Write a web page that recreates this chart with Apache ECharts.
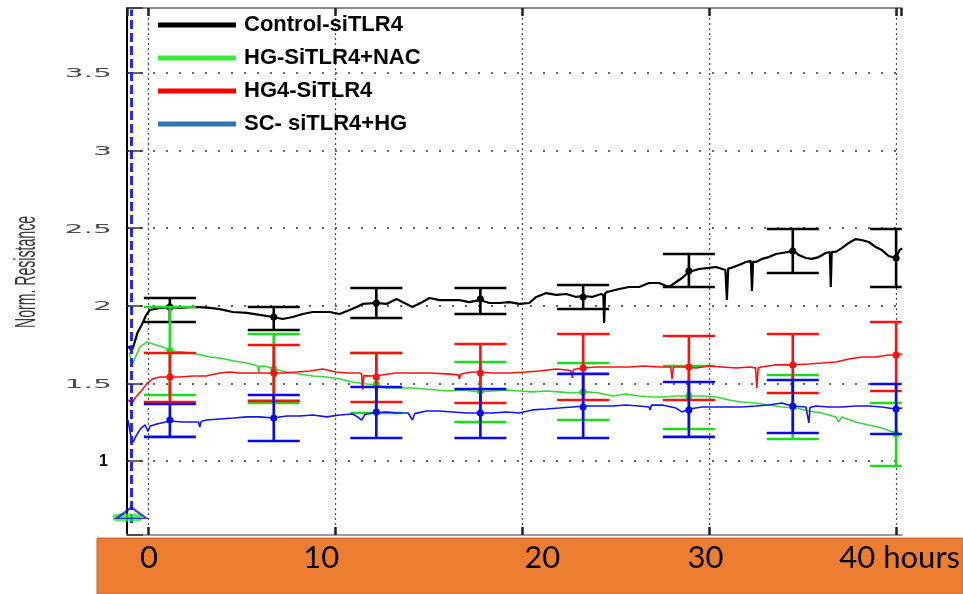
<!DOCTYPE html>
<html>
<head>
<meta charset="utf-8">
<script src="https://cdn.jsdelivr.net/npm/echarts@6/dist/echarts.min.js"></script>
<style>
  html, body { margin: 0; padding: 0; background: #ffffff; }
  #chart { width: 963px; height: 594px; }
</style>
</head>
<body>
<div id="chart"></div>
<script>
// ---- Normalised resistance traces, [hours, value] ----
const controlTrace = [
  [-1.05,1.74],[-0.9,1.715],[-0.8,1.73],[-0.55,1.83],[-0.32,1.88],[-0.1,1.94],[0.1,1.973],[0.64,1.986],
  [1.17,1.992],[1.71,1.986],[2.24,1.992],[2.77,1.992],[3.31,1.986],[3.84,1.979],[4.53,1.96],[5.28,1.954],
  [5.97,1.941],[6.67,1.928],[7.2,1.915],[7.73,1.928],[8.27,1.947],[8.8,1.96],[9.33,1.96],[9.71,1.96],
  [10.24,1.947],[10.77,1.973],[11.15,1.992],[11.47,2.012],[12.21,2.018],[12.75,2.012],[13.28,2.044],[13.81,2.012],
  [14.13,1.992],[14.67,2.024],[15.04,2.05],[15.57,2.037],[16.11,2.037],[16.64,2.037],[17.17,2.024],[17.71,2.037],
  [18.24,2.018],[18.77,2.018],[19.31,2.024],[19.84,2.012],[20.37,2.018],[20.75,2.057],[21.28,2.082],[21.81,2.07],
  [22.35,2.076],[22.88,2.057],[23.25,2.063],[23.73,2.057],[24.21,2.076],[24.33,2.07],[24.37,1.889],[24.42,2.08],
  [24.53,2.089],[25.17,2.108],[25.71,2.121],[26.24,2.121],[26.77,2.147],[27.3,2.147],[27.84,2.121],[28.53,2.179],
  [28.9,2.218],[29.44,2.237],[29.97,2.244],[30.35,2.25],[30.85,2.231],[30.93,2.037],[31.0,2.24],[31.15,2.244],
  [31.57,2.263],[31.95,2.282],[32.21,2.289],[32.27,2.095],[32.33,2.285],[32.48,2.282],[32.8,2.302],[33.17,2.314],
  [33.55,2.334],[33.87,2.34],[34.24,2.347],[34.45,2.36],[34.77,2.327],[35.15,2.308],[35.47,2.302],[35.84,2.314],
  [36.21,2.34],[36.43,2.347],[36.48,2.121],[36.53,2.347],[36.75,2.347],[37.07,2.372],[37.44,2.405],[37.81,2.43],
  [38.13,2.424],[38.51,2.411],[38.88,2.379],[39.2,2.36],[39.57,2.321],[39.95,2.308],[40.16,2.36],[40.3,2.37]
];
const nacTrace = [
  [-1.0,1.70],[-0.85,1.62],[-0.7,1.66],[-0.43,1.735],[-0.05,1.767],[0.27,1.754],[0.8,1.735],[1.17,1.709],
  [1.87,1.702],[2.61,1.689],[3.3,1.67],[3.84,1.664],[4.6,1.644],[5.3,1.631],[5.87,1.612],[5.92,1.567],
  [5.97,1.61],[6.24,1.612],[6.72,1.593],[7.41,1.573],[8.11,1.561],[8.8,1.548],[9.55,1.541],[10.24,1.528],
  [10.93,1.509],[11.68,1.496],[12.21,1.49],[12.75,1.47],[13.39,1.47],[14.08,1.47],[14.77,1.464],[15.41,1.457],
  [16.05,1.451],[16.8,1.457],[17.71,1.445],[18.4,1.451],[19.15,1.457],[19.84,1.451],[20.53,1.445],[21.28,1.451],
  [21.97,1.445],[22.67,1.438],[23.41,1.445],[24.11,1.438],[24.8,1.419],[25.55,1.432],[26.24,1.419],[26.93,1.412],
  [27.47,1.412],[28.21,1.419],[28.9,1.419],[29.6,1.419],[30.35,1.412],[31.04,1.393],[31.73,1.38],[32.48,1.374],
  [33.17,1.361],[33.87,1.348],[34.61,1.341],[35.31,1.322],[36.0,1.309],[36.75,1.284],[36.9,1.251],[37.07,1.284],
  [37.81,1.251],[38.51,1.232],[39.2,1.213],[39.95,1.18],[40.3,1.168]
];
const hg4Trace = [
  [-1.07,1.393],[-0.85,1.374],[-0.69,1.406],[-0.32,1.457],[-0.05,1.50],[0.27,1.53],[0.64,1.541],[1.17,1.541],
  [1.7,1.541],[2.4,1.548],[3.1,1.548],[3.84,1.567],[4.37,1.573],[4.9,1.567],[5.6,1.567],[6.3,1.567],
  [6.7,1.565],[6.77,1.535],[6.84,1.567],[7.25,1.567],[7.95,1.573],[8.64,1.58],[9.33,1.593],[10.03,1.573],
  [10.72,1.567],[11.3,1.567],[11.41,1.561],[11.47,1.46],[11.53,1.55],[11.95,1.548],[12.48,1.554],[13.23,1.567],
  [14.13,1.567],[15.04,1.567],[15.95,1.561],[16.58,1.555],[16.64,1.528],[16.7,1.56],[17.33,1.573],[17.71,1.573],
  [18.4,1.567],[19.31,1.567],[20.21,1.573],[20.91,1.58],[21.81,1.593],[22.4,1.586],[22.6,1.58],[22.67,1.535],
  [22.74,1.59],[23.2,1.599],[24.0,1.606],[24.8,1.606],[25.71,1.606],[26.5,1.612],[27.31,1.606],[27.93,1.606],
  [28.0,1.528],[28.07,1.606],[28.53,1.606],[29.28,1.599],[29.97,1.612],[30.67,1.606],[31.41,1.599],[32.11,1.606],
  [32.46,1.60],[32.53,1.47],[32.6,1.60],[32.75,1.606],[33.49,1.619],[34.35,1.619],[35.31,1.625],[36.0,1.631],
  [36.75,1.638],[37.44,1.657],[38.13,1.67],[38.88,1.67],[39.57,1.683],[39.95,1.683],[40.3,1.689]
];
const scTrace = [
  [-1.07,1.264],[-0.93,1.17],[-0.8,1.122],[-0.6,1.17],[-0.38,1.21],[-0.15,1.232],[0.0,1.19],[0.12,1.225],
  [0.48,1.238],[1.17,1.258],[1.87,1.251],[2.7,1.251],[2.77,1.219],[2.84,1.255],[3.12,1.264],[3.84,1.271],
  [4.56,1.277],[5.3,1.284],[5.97,1.284],[6.67,1.277],[7.41,1.29],[8.11,1.29],[8.8,1.296],[9.55,1.284],
  [10.24,1.296],[10.93,1.303],[11.2,1.284],[11.41,1.264],[11.6,1.30],[12.0,1.309],[12.75,1.316],[13.28,1.309],
  [13.9,1.309],[14.13,1.264],[14.25,1.305],[14.88,1.322],[15.57,1.322],[16.27,1.316],[17.01,1.309],[17.71,1.309],
  [18.4,1.309],[19.15,1.316],[19.84,1.309],[20.53,1.329],[21.28,1.335],[21.97,1.341],[22.67,1.348],[23.41,1.354],
  [24.11,1.354],[24.8,1.354],[25.55,1.361],[26.24,1.354],[26.77,1.348],[26.83,1.329],[26.9,1.36],[27.47,1.361],
  [28.21,1.341],[28.53,1.316],[28.9,1.335],[29.6,1.348],[30.35,1.348],[31.04,1.348],[31.73,1.348],[32.48,1.354],
  [33.17,1.361],[33.87,1.374],[34.4,1.354],[35.15,1.348],[35.25,1.348],[35.31,1.245],[35.37,1.345],[35.68,1.354],
  [36.37,1.348],[37.07,1.348],[37.81,1.354],[38.51,1.354],[39.2,1.348],[39.95,1.335],[40.3,1.341]
];

// ---- Error bars (mean ± SD) at the sampling times ----
const errHours    = [1.17, 6.72, 12.2, 17.76, 23.25, 28.9, 34.45, 39.97];
const controlLow  = [1.896, 1.844, 1.921, 1.947, 1.979, 2.121, 2.211, 2.121];
const controlMid  = [1.992, 1.928, 2.018, 2.044, 2.057, 2.224, 2.353, 2.308];
const controlHigh = [2.050, 1.992, 2.115, 2.115, 2.134, 2.334, 2.495, 2.495];
const nacLow      = [1.425, 1.374, 1.309, 1.251, 1.264, 1.206, 1.142, 0.968];
const nacMid      = [1.709, 1.593, 1.496, 1.451, 1.445, 1.419, 1.348, 1.174];
const nacHigh     = [1.992, 1.818, 1.696, 1.638, 1.631, 1.612, 1.554, 1.374];
const hg4Low      = [1.380, 1.387, 1.380, 1.374, 1.393, 1.393, 1.438, 1.451];
const hg4Mid      = [1.541, 1.567, 1.541, 1.567, 1.599, 1.606, 1.619, 1.683];
const hg4High     = [1.696, 1.747, 1.696, 1.754, 1.818, 1.805, 1.818, 1.896];
const scLow       = [1.155, 1.129, 1.148, 1.148, 1.148, 1.155, 1.180, 1.174];
const scMid       = [1.264, 1.277, 1.316, 1.309, 1.348, 1.329, 1.354, 1.335];
const scHigh      = [1.367, 1.425, 1.477, 1.464, 1.561, 1.509, 1.522, 1.496];

// ---- Treatment start marker ----
const startLine   = [[-0.88, 0.60], [-0.88, 3.91]];
const startBase   = [-1.1, 0.635];
const startArrow  = [-0.88, 0.665];

// ---- Axis ranges and labels ----
const hourRange = [-1.12, 40.27];
const resRange  = [0.523, 3.919];
const resistanceTicks = [1, 1.5, 2, 2.5, 3, 3.5];
const hourTicks  = [0, 10, 20, 30, 40];
const hourLabels = ['0', '10', '20', '30', '40 hours'];
const seriesNames = ['Control-siTLR4', 'HG-SiTLR4+NAC', 'HG4-SiTLR4', 'SC- siTLR4+HG'];

const C = {
  control: '#000000', nac: '#3ad83a', hg4: '#ff1010', sc: '#1414ee',
  nacBar: '#1adc1a', scBar: '#0a0ae8',
  legendNac: '#3ee83e', legendHg4: '#ff0000', legendSc: '#2e75b6'
};

function zipErr(low, mid, high) {
  return errHours.map((h, i) => [h, low[i], mid[i], high[i]]);
}

function errorBars(data, color, z) {
  return {
    type: 'custom',
    z: z,
    data: data,
    encode: { x: 0, y: [1, 2, 3] },
    renderItem: function (params, api) {
      const x = api.value(0);
      const top = api.coord([x, api.value(3)]);
      const bot = api.coord([x, api.value(1)]);
      const mid = api.coord([x, api.value(2)]);
      const hw = 26;
      const st = { stroke: color, lineWidth: 2.6 };
      const cs = params.coordSys;
      return {
        type: 'group',
        clipPath: { type: 'rect', shape: { x: cs.x, y: cs.y, width: cs.width, height: cs.height } },
        children: [
          { type: 'line', shape: { x1: top[0], y1: top[1], x2: bot[0], y2: bot[1] }, style: st },
          { type: 'line', shape: { x1: top[0] - hw, y1: top[1], x2: top[0] + hw, y2: top[1] }, style: st },
          { type: 'line', shape: { x1: bot[0] - hw, y1: bot[1], x2: bot[0] + hw, y2: bot[1] }, style: st },
          { type: 'circle', shape: { cx: mid[0], cy: mid[1], r: 3.5 }, style: { fill: color } }
        ]
      };
    }
  };
}

function trace(name, data, color, width, z) {
  return {
    type: 'line', name: name, data: data, z: z,
    symbol: 'none', smooth: false, clip: true,
    lineStyle: { color: color, width: width },
    itemStyle: { color: color }
  };
}

const labelShift = { 0: 1, 10: -14, 20: 20, 30: -4, 40: 3 };
const rich = {};
hourTicks.forEach(t => {
  const s = labelShift[t];
  rich['h' + t] = {
    fontFamily: 'Lato', fontSize: 31, color: '#000', lineHeight: 32,
    padding: s >= 0 ? [0, 0, 0, 2 * s] : [0, -2 * s, 0, 0]
  };
});

const chart = echarts.init(document.getElementById('chart'), null, { renderer: 'canvas' });

chart.setOption({
  animation: false,
  backgroundColor: '#ffffff',
  grid: { left: 127, right: 60, top: 8, bottom: 59, containLabel: false },
  legend: {
    orient: 'vertical', left: 153, top: 9,
    itemWidth: 78, itemHeight: 5, itemGap: 11, icon: 'rect',
    selectedMode: false,
    textStyle: { fontFamily: 'Liberation Sans', fontWeight: 'bold', fontSize: 22, lineHeight: 22, color: '#000', padding: [0, 0, 0, 3] },
    data: [
      { name: seriesNames[0], itemStyle: { color: C.control } },
      { name: seriesNames[1], itemStyle: { color: C.legendNac } },
      { name: seriesNames[2], itemStyle: { color: C.legendHg4 } },
      { name: seriesNames[3], itemStyle: { color: C.legendSc } }
    ]
  },
  xAxis: [{
    type: 'value', min: hourRange[0], max: hourRange[1], splitNumber: 5,
    axisLine: { show: true, onZero: false, lineStyle: { color: '#9c9c9c', width: 2 } },
    axisTick: { show: true, inside: true, length: 8, lineStyle: { color: '#222', width: 2.5 } },
    axisLabel: {
      show: true, margin: 7, showMinLabel: false, showMaxLabel: false,
      formatter: function (v) {
        const i = hourTicks.indexOf(Math.round(v * 1000) / 1000);
        return i < 0 ? '' : '{h' + hourTicks[i] + '|' + hourLabels[i] + '}';
      },
      rich: rich
    },
    splitLine: { show: true, showMinLine: false, showMaxLine: false, lineStyle: { color: '#555', width: 1.3, type: [2, 3] } }
  }, {
    type: 'value', position: 'top', min: hourRange[0], max: hourRange[1], splitNumber: 5,
    axisLine: { show: true, onZero: false, lineStyle: { color: '#8c8c8c', width: 2 } },
    axisTick: { show: true, inside: true, length: 8, lineStyle: { color: '#222', width: 2.5 } },
    axisLabel: { show: false },
    splitLine: { show: false }
  }],
  yAxis: {
    type: 'value', min: resRange[0], max: resRange[1], splitNumber: 5,
    axisLine: { show: true, onZero: false, lineStyle: { color: '#000', width: 2 } },
    axisTick: { show: true, inside: true, length: 16, lineStyle: { color: '#333', width: 1.5 } },
    axisLabel: { show: false },
    splitLine: { show: true, showMinLine: false, showMaxLine: false, lineStyle: { color: '#666', width: 1.8, type: [2, 11] } }
  },
  series: [
    trace(seriesNames[0], controlTrace, C.control, 2.2, 10),
    errorBars(zipErr(controlLow, controlMid, controlHigh), C.control, 11),
    trace(seriesNames[1], nacTrace, C.nac, 1.6, 12),
    errorBars(zipErr(nacLow, nacMid, nacHigh), C.nacBar, 13),
    trace(seriesNames[2], hg4Trace, C.hg4, 1.6, 14),
    errorBars(zipErr(hg4Low, hg4Mid, hg4High), C.hg4, 15),
    trace(seriesNames[3], scTrace, C.sc, 1.6, 16),
    errorBars(zipErr(scLow, scMid, scHigh), C.scBar, 17),
    {
      type: 'line', data: startLine, symbol: 'none', z: 18,
      lineStyle: { color: '#1a1aff', width: 2.8, type: [9, 4] }
    },
    {
      type: 'scatter', clip: false, z: 19, data: [startBase],
      symbol: 'roundRect', symbolSize: [29, 8],
      itemStyle: { color: '#2ee82e' }
    },
    {
      type: 'scatter', clip: false, z: 20, data: [startArrow],
      symbol: 'triangle', symbolSize: [30, 11],
      itemStyle: { color: 'rgba(0,0,0,0)', borderColor: '#1010e8', borderWidth: 2 }
    }
  ]
});

// Orange time band, axis title and stretched y tick labels
const graphics = [
  {
    type: 'rect', z: -10, silent: true,
    shape: { x: 97, y: 538, width: 866, height: 56 },
    style: { fill: '#ed7d31', stroke: '#c8662a', lineWidth: 1 }
  },
  {
    type: 'text', x: 27, y: 272, rotation: Math.PI / 2, scaleX: 0.47, scaleY: 1,
    style: { text: 'Norm. Resistance', fontFamily: 'Liberation Sans', fontSize: 30, fill: '#3a3a3a', align: 'center', verticalAlign: 'middle' }
  }
];
resistanceTicks.forEach(v => {
  const py = chart.convertToPixel({ yAxisIndex: 0 }, v);
  if (v === 1) {
    graphics.push({
      type: 'text', x: 108, y: py + 1,
      style: { text: String(v), fontFamily: 'Liberation Sans', fontWeight: 'bold', fontSize: 16, fill: '#000', align: 'right', verticalAlign: 'middle' }
    });
  } else {
    graphics.push({
      type: 'text', x: 112, y: py + 1, scaleX: 2.3, scaleY: 1,
      style: { text: String(v), fontFamily: 'DejaVu Sans', fontSize: 13, fill: '#4a4a4a', align: 'right', verticalAlign: 'middle' }
    });
  }
});
chart.setOption({ graphic: { elements: graphics } });
</script>
</body>
</html>
